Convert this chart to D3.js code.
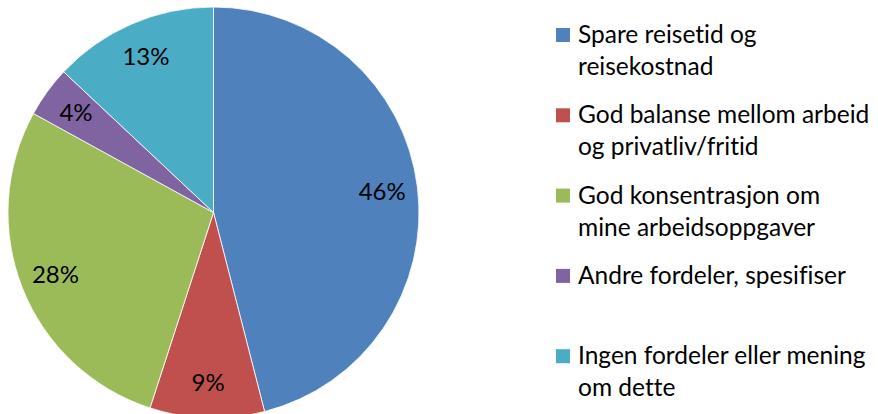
<!DOCTYPE html>
<html>
<head>
<meta charset="utf-8">
<script src="https://cdn.jsdelivr.net/npm/d3@7"></script>
<style>
  body { margin: 0; background: #fff; }
  svg text { font-family: Lato, "Open Sans", sans-serif; fill: #000; font-variant-ligatures: none; }
</style>
</head>
<body>
<svg id="chart" width="878" height="414"></svg>
<script>
/* chart data */
const categories = [
  "Spare reisetid og\nreisekostnad",
  "God balanse mellom arbeid\nog privatliv/fritid",
  "God konsentrasjon om\nmine arbeidsoppgaver",
  "Andre fordeler, spesifiser",
  "Ingen fordeler eller mening\nom dette"
];
const shares = [46, 9, 28, 4, 13];
const colors = ["#4F81BD", "#C0504D", "#9BBB59", "#8064A2", "#4BACC6"];

const data = categories.map((c, i) => ({ name: c, value: shares[i], color: colors[i] }));

const svg = d3.select("#chart");

const cx = 213.5, cy = 212.5, radius = 205.5;

let pie = d3.pie()
  .sort(null)
  .value(d => d.value);

let arc = d3.arc()
  .innerRadius(0)
  .outerRadius(radius);

let labelArc = d3.arc()
  .innerRadius(170)
  .outerRadius(170);

const g = svg.append("g")
  .attr("transform", "translate(" + cx + "," + cy + ")");

g.selectAll("path")
  .data(pie(data))
  .enter().append("path")
  .attr("d", arc)
  .attr("fill", d => d.data.color)
  .attr("stroke", "#fff")
  .attr("stroke-width", 0.8);

g.selectAll("text")
  .data(pie(data))
  .enter().append("text")
  .attr("transform", d => "translate(" + labelArc.centroid(d) + ")")
  .attr("text-anchor", "middle")
  .attr("dy", "0.35em")
  .attr("font-size", "24px")
  .text(d => d.data.value + "%");

// legend
const legend = svg.append("g")
  .attr("transform", "translate(556,43)");

const item = legend.selectAll("g")
  .data(data)
  .enter().append("g")
  .attr("transform", (d, i) => "translate(0," + (i * 80.3) + ")");

item.append("rect")
  .attr("x", 0)
  .attr("y", -15)
  .attr("width", 14)
  .attr("height", 14)
  .attr("fill", d => d.color);

item.append("text")
  .attr("x", 22)
  .attr("font-size", "24.5px")
  .selectAll("tspan")
  .data(d => d.name.split("\n"))
  .enter().append("tspan")
  .attr("x", 22)
  .attr("dy", (d, i) => i == 0 ? 0 : 32)
  .text(d => d);
</script>
</body>
</html>
